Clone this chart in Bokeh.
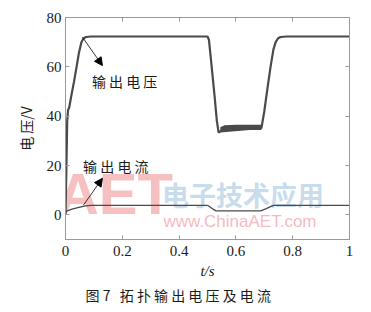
from bokeh.plotting import figure
from bokeh.models import (FixedTicker, LinearAxis, Label, Arrow, NormalHead, Range1d, Title)
from bokeh.embed import file_html
from bokeh.resources import INLINE

# ---- data ----
v_t = [0, 0.003, 0.006, 0.009, 0.013, 0.02, 0.03, 0.039, 0.047, 0.056, 0.063, 0.072, 0.09,
       0.5, 0.505, 0.513, 0.525, 0.533, 0.539, 0.545, 0.69, 0.7, 0.712, 0.722, 0.732, 0.74, 0.748, 0.757, 0.78, 1.0]
v_val = [0, 18, 38, 42.5, 43.5, 48, 54, 60, 65.5, 70, 71.5, 72.1, 72.3,
         72.3, 71.0, 62, 48, 38, 33.4, 33.8, 35.2, 42, 52, 60, 67, 70, 71.5, 72.1, 72.3, 72.3]
band_t = [0.545, 0.56, 0.6, 0.65, 0.69]
band_lo = [33.8, 34.3, 34.4, 34.4, 34.4]
band_hi = [35.5, 36.3, 36.5, 36.5, 36.5]

i_t = [0, 0.004, 0.02, 0.04, 0.055, 0.07, 0.09, 0.5, 0.505, 0.52, 0.53, 0.687, 0.705, 0.72, 0.733, 1.0]
i_val = [0.8, 1.5, 2.2, 2.8, 3.2, 3.6, 3.8, 3.8, 3.5, 2.3, 1.6, 1.6, 2.4, 3.2, 3.8, 3.8]

x_ticks = [0, 0.2, 0.4, 0.6, 0.8, 1.0]
x_tick_labels = ["0", "0.2", "0.4", "0.6", "0.8", "1"]
y_ticks = [0, 20, 40, 60, 80]
y_tick_labels = ["0", "20", "40", "60", "80"]

NB = "\u00a0"
x_label = "t/s"
y_label = NB.join(["电", "压/V"])
caption = "图" + NB + "7" + NB * 3 + NB.join(list("拓扑输出电压及电流"))
label_v = NB.join(list("输出电压"))
label_i = NB.join(list("输出电流"))

CJK = "Noto Sans CJK SC"
SERIF = "Liberation Serif"
AX = "#9a9a9a"
TXT = "#1a1a1a"

p = figure(width=371, height=312, output_backend="svg", toolbar_location=None,
           x_range=Range1d(0, 1), y_range=Range1d(-10, 80),
           min_border_left=65, min_border_right=22, min_border_top=17, min_border_bottom=73)
p.background_fill_color = "white"
p.border_fill_color = "white"
p.outline_line_color = AX
p.xgrid.visible = False
p.ygrid.visible = False

def style(ax, ticks, labels, show):
    ax.ticker = FixedTicker(ticks=ticks)
    ax.major_label_overrides = {t: (l if show else "") for t, l in zip(ticks, labels)}
    ax.axis_line_color = AX
    ax.major_tick_line_color = AX
    ax.major_tick_in = 4
    ax.major_tick_out = 0
    ax.minor_tick_line_color = None
    ax.major_label_text_font = SERIF
    ax.major_label_text_font_size = "15px" if show else "0px"
    ax.major_label_text_color = TXT

style(p.xaxis[0], x_ticks, x_tick_labels, True)
style(p.yaxis[0], y_ticks, y_tick_labels, True)
p.xaxis[0].major_label_standoff = 6
p.yaxis[0].major_label_standoff = 4
p.xaxis[0].axis_label = x_label
p.xaxis[0].axis_label_text_font = SERIF
p.xaxis[0].axis_label_text_font_size = "15px"
p.xaxis[0].axis_label_text_font_style = "italic"
p.xaxis[0].axis_label_text_color = TXT
p.xaxis[0].axis_label_standoff = 4
p.yaxis[0].axis_label = y_label
p.yaxis[0].axis_label_text_font = CJK
p.yaxis[0].axis_label_text_font_size = "14px"
p.yaxis[0].axis_label_text_font_style = "normal"
p.yaxis[0].axis_label_text_color = TXT
p.yaxis[0].axis_label_standoff = 8

ra = LinearAxis()
style(ra, y_ticks, y_tick_labels, False)
p.add_layout(ra, "right")
ta = LinearAxis()
style(ta, x_ticks, x_tick_labels, False)
p.add_layout(ta, "above")

p.add_layout(Title(text=caption, text_font=CJK, text_font_size="14px", text_font_style="normal",
                   text_color=TXT, align="left", offset=20, standoff=2), "below")

# watermark
p.add_layout(Label(x=-0.03, y=-4.5, text="AET", text_font="Liberation Sans", text_font_size="58px",
                   text_font_style="bold", text_color="#f08c8c", text_alpha=0.55, level="underlay"))
p.add_layout(Label(x=0.34, y=0.5, text="电子技术应用", text_font=CJK, text_font_size="27px",
                   text_font_style="bold", text_color="#a8c8e0", text_alpha=0.65, level="underlay"))
p.add_layout(Label(x=0.345, y=-6.5, text="www.ChinaAET.com", text_font="Liberation Sans",
                   text_font_size="17px", text_color="#f29aa4", text_alpha=0.7, level="underlay"))

# curves
p.varea(x=band_t, y1=band_lo, y2=band_hi, fill_color="#4a4a4a")
p.line(v_t, v_val, line_color="#4a4a4a", line_width=2.2)
p.line(i_t, i_val, line_color="#4a4a4a", line_width=1.3)

# annotations
p.add_layout(Arrow(x_start=0.06, y_start=72, x_end=0.13, y_end=60.5, line_width=0.8, line_color="black",
                   end=NormalHead(size=8, fill_color="black", line_color="black")))
p.add_layout(Arrow(x_start=0.063, y_start=3.9, x_end=0.13, y_end=14.8, line_width=0.8, line_color="black",
                   end=NormalHead(size=8, fill_color="black", line_color="black")))
p.add_layout(Label(x=0.093, y=54.3, text=label_v, text_font=CJK, text_font_size="14px",
                   text_baseline="middle", text_color=TXT))
p.add_layout(Label(x=0.062, y=19.6, text=label_i, text_font=CJK, text_font_size="14px",
                   text_baseline="middle", text_color=TXT))

open("out.html", "w").write(file_html(p, INLINE))
